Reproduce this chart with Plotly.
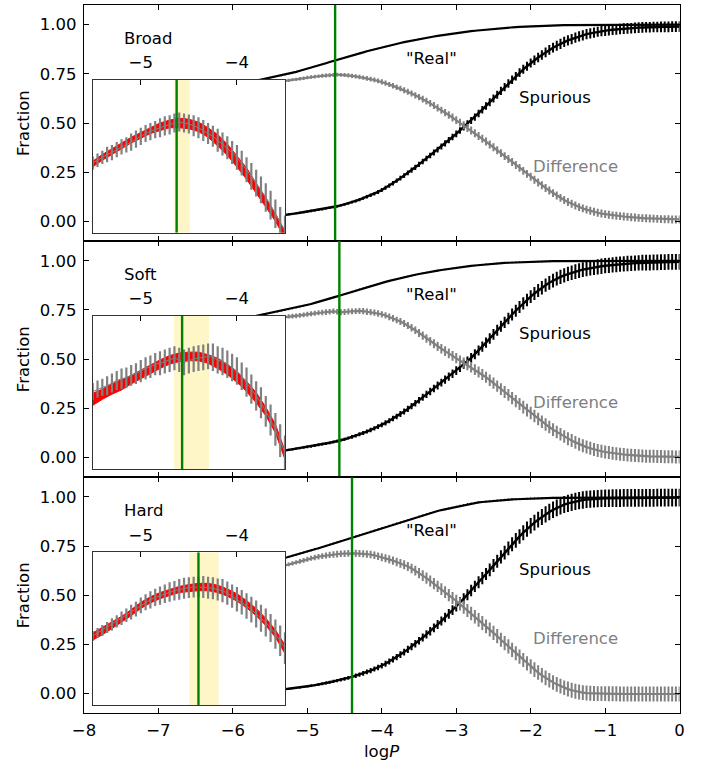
import numpy as np
import plotly.graph_objects as go

# ---------------- data ----------------
logp = np.round(np.arange(-6.0, 0.0001, 0.05), 2)   # 121 grid positions

panel_names = ["Broad", "Soft", "Hard"]

real_broad = [
    0.690, 0.694, 0.697, 0.701, 0.705, 0.709, 0.713, 0.718, 0.722, 0.726,
    0.730, 0.733, 0.737, 0.741, 0.745, 0.750, 0.755, 0.760, 0.766, 0.771,
    0.777, 0.782, 0.788, 0.793, 0.799, 0.804, 0.810, 0.815, 0.821, 0.826,
    0.832, 0.837, 0.843, 0.848, 0.854, 0.859, 0.865, 0.870, 0.875, 0.880,
    0.885, 0.890, 0.894, 0.899, 0.903, 0.907, 0.911, 0.915, 0.919, 0.923,
    0.927, 0.930, 0.934, 0.937, 0.940, 0.943, 0.946, 0.949, 0.952, 0.955,
    0.958, 0.960, 0.963, 0.965, 0.967, 0.969, 0.971, 0.973, 0.975, 0.977,
    0.979, 0.981, 0.982, 0.984, 0.985, 0.987, 0.988, 0.989, 0.990, 0.991,
    0.992, 0.993, 0.994, 0.994, 0.995, 0.996, 0.996, 0.997, 0.997, 0.998,
    0.998, 0.998, 0.998, 0.999, 0.999, 0.999, 0.999, 0.999, 0.999, 1.000] + [1.000] * 21
spur_broad = [
    0.010, 0.011, 0.012, 0.013, 0.014, 0.015, 0.016, 0.018, 0.019, 0.021,
    0.023, 0.025, 0.027, 0.030, 0.033, 0.036, 0.038, 0.041, 0.044, 0.047,
    0.050, 0.053, 0.056, 0.059, 0.062, 0.066, 0.069, 0.073, 0.077, 0.082,
    0.087, 0.092, 0.098, 0.104, 0.111, 0.118, 0.125, 0.133, 0.141, 0.150,
    0.160, 0.171, 0.182, 0.194, 0.207, 0.220, 0.233, 0.247, 0.261, 0.275,
    0.290, 0.305, 0.320, 0.335, 0.350, 0.365, 0.381, 0.397, 0.413, 0.429,
    0.445, 0.462, 0.479, 0.496, 0.513, 0.530, 0.549, 0.568, 0.587, 0.606,
    0.625, 0.644, 0.663, 0.682, 0.701, 0.720, 0.738, 0.756, 0.773, 0.789,
    0.805, 0.819, 0.833, 0.846, 0.859, 0.872, 0.883, 0.893, 0.903, 0.912,
    0.920, 0.927, 0.934, 0.940, 0.946, 0.952, 0.956, 0.960, 0.964, 0.967,
    0.970, 0.972, 0.974, 0.976, 0.978, 0.980, 0.981, 0.982, 0.984, 0.985,
    0.986, 0.987, 0.987, 0.988, 0.988, 0.989, 0.989, 0.989, 0.990, 0.990,
    0.990]
diff_broad = [
    0.678, 0.681, 0.684, 0.687, 0.689, 0.692, 0.694, 0.697, 0.699, 0.701,
    0.703, 0.706, 0.709, 0.712, 0.714, 0.717, 0.720, 0.722, 0.725, 0.728,
    0.731, 0.734, 0.736, 0.738, 0.740, 0.742, 0.743, 0.745, 0.746, 0.745,
    0.744, 0.742, 0.740, 0.737, 0.734, 0.731, 0.727, 0.723, 0.719, 0.714,
    0.709, 0.703, 0.696, 0.689, 0.682, 0.675, 0.667, 0.659, 0.650, 0.641,
    0.632, 0.622, 0.611, 0.600, 0.589, 0.577, 0.565, 0.553, 0.541, 0.528,
    0.515, 0.502, 0.489, 0.475, 0.462, 0.448, 0.434, 0.420, 0.406, 0.391,
    0.377, 0.362, 0.347, 0.332, 0.317, 0.302, 0.287, 0.272, 0.257, 0.242,
    0.227, 0.212, 0.198, 0.184, 0.170, 0.157, 0.144, 0.132, 0.120, 0.109,
    0.099, 0.090, 0.081, 0.073, 0.066, 0.060, 0.054, 0.049, 0.044, 0.040,
    0.037, 0.034, 0.031, 0.029, 0.027, 0.025, 0.023, 0.021, 0.020, 0.018,
    0.017, 0.016, 0.015, 0.014, 0.013, 0.012, 0.011, 0.011, 0.010, 0.010,
    0.010]
spur_err_broad = [0.004] * 10 + [0.005] * 10 + [0.006] * 10 + [
    0.007, 0.007, 0.007, 0.008, 0.008, 0.008, 0.009, 0.009, 0.009, 0.010,
    0.010, 0.010, 0.011, 0.011, 0.011, 0.012, 0.012, 0.012, 0.013, 0.013,
    0.013, 0.014, 0.014, 0.014, 0.015, 0.015, 0.015, 0.016, 0.016, 0.016,
    0.017, 0.017, 0.017, 0.018, 0.018, 0.018, 0.019, 0.019, 0.019, 0.020,
    0.020, 0.020, 0.021, 0.021, 0.021, 0.022, 0.022, 0.022, 0.023, 0.023,
    0.023, 0.024, 0.024, 0.024, 0.025, 0.025, 0.025, 0.025, 0.026, 0.026] + [0.026] * 10 + [0.027] * 21
diff_err_broad = [0.007] * 10 + [
    0.007, 0.007, 0.007, 0.008, 0.008, 0.008, 0.008, 0.008, 0.009, 0.009,
    0.009, 0.009, 0.009, 0.009, 0.010, 0.010, 0.010, 0.010, 0.010, 0.010,
    0.010, 0.011, 0.011, 0.011, 0.011, 0.011, 0.012, 0.012, 0.012, 0.012,
    0.013, 0.013, 0.013, 0.014, 0.014, 0.014, 0.015, 0.015, 0.015, 0.016,
    0.016, 0.017, 0.017, 0.017, 0.018, 0.018, 0.018, 0.019, 0.019, 0.020] + [0.020] * 61

real_soft = [
    0.695, 0.699, 0.703, 0.707, 0.711, 0.715, 0.719, 0.723, 0.727, 0.731,
    0.734, 0.738, 0.741, 0.745, 0.749, 0.753, 0.757, 0.761, 0.765, 0.770,
    0.775, 0.780, 0.786, 0.791, 0.797, 0.802, 0.808, 0.814, 0.819, 0.825,
    0.831, 0.837, 0.843, 0.849, 0.855, 0.861, 0.866, 0.872, 0.877, 0.883,
    0.888, 0.893, 0.898, 0.903, 0.908, 0.913, 0.917, 0.921, 0.925, 0.929,
    0.933, 0.937, 0.940, 0.944, 0.947, 0.950, 0.953, 0.956, 0.959, 0.962,
    0.965, 0.967, 0.970, 0.972, 0.974, 0.976, 0.978, 0.980, 0.982, 0.983,
    0.985, 0.986, 0.987, 0.989, 0.990, 0.991, 0.992, 0.993, 0.993, 0.994,
    0.995, 0.995, 0.996, 0.996, 0.997, 0.997, 0.998, 0.998, 0.998, 0.999,
    0.999, 0.999, 0.999, 0.999] + [1.000] * 27
spur_soft = [
    0.010, 0.011, 0.012, 0.013, 0.014, 0.016, 0.017, 0.019, 0.021, 0.023,
    0.025, 0.027, 0.030, 0.033, 0.036, 0.039, 0.042, 0.045, 0.048, 0.051,
    0.054, 0.057, 0.061, 0.064, 0.068, 0.071, 0.075, 0.079, 0.083, 0.088,
    0.093, 0.099, 0.105, 0.111, 0.118, 0.125, 0.132, 0.140, 0.148, 0.157,
    0.166, 0.176, 0.187, 0.198, 0.209, 0.221, 0.234, 0.247, 0.261, 0.276,
    0.291, 0.306, 0.321, 0.336, 0.351, 0.366, 0.381, 0.396, 0.411, 0.426,
    0.442, 0.458, 0.474, 0.490, 0.507, 0.525, 0.544, 0.564, 0.584, 0.605,
    0.626, 0.647, 0.667, 0.687, 0.707, 0.727, 0.746, 0.765, 0.783, 0.801,
    0.818, 0.834, 0.849, 0.863, 0.876, 0.888, 0.899, 0.909, 0.918, 0.926,
    0.933, 0.939, 0.945, 0.950, 0.955, 0.959, 0.963, 0.966, 0.969, 0.972,
    0.975, 0.977, 0.979, 0.981, 0.983, 0.984, 0.986, 0.987, 0.988, 0.989,
    0.990, 0.991, 0.991, 0.992, 0.992, 0.993, 0.993, 0.994, 0.994, 0.995,
    0.995]
diff_soft = [
    0.680, 0.683, 0.686, 0.689, 0.691, 0.694, 0.696, 0.699, 0.700, 0.702,
    0.704, 0.707, 0.709, 0.711, 0.714, 0.717, 0.719, 0.720, 0.723, 0.725,
    0.728, 0.731, 0.733, 0.736, 0.737, 0.739, 0.741, 0.743, 0.741, 0.738,
    0.740, 0.742, 0.743, 0.744, 0.745, 0.744, 0.741, 0.739, 0.736, 0.732,
    0.728, 0.722, 0.715, 0.707, 0.699, 0.691, 0.681, 0.671, 0.660, 0.647,
    0.633, 0.619, 0.605, 0.591, 0.578, 0.565, 0.553, 0.541, 0.529, 0.517,
    0.505, 0.493, 0.482, 0.470, 0.459, 0.447, 0.435, 0.422, 0.408, 0.393,
    0.378, 0.363, 0.348, 0.333, 0.318, 0.302, 0.287, 0.272, 0.256, 0.241,
    0.226, 0.211, 0.196, 0.182, 0.168, 0.155, 0.142, 0.130, 0.118, 0.107,
    0.096, 0.086, 0.077, 0.068, 0.060, 0.053, 0.047, 0.041, 0.036, 0.032,
    0.028, 0.025, 0.022, 0.019, 0.017, 0.015, 0.013, 0.012, 0.010, 0.009,
    0.008, 0.007, 0.006, 0.006, 0.005, 0.005, 0.004, 0.004, 0.004, 0.003,
    0.003]
spur_err_soft = [0.005] * 10 + [0.006] * 10 + [0.007] * 10 + [
    0.008, 0.008, 0.009, 0.009, 0.010, 0.010, 0.010, 0.011, 0.011, 0.012,
    0.012, 0.013, 0.013, 0.014, 0.014, 0.015, 0.015, 0.016, 0.016, 0.017,
    0.017, 0.018, 0.018, 0.019, 0.019, 0.020, 0.020, 0.021, 0.021, 0.022,
    0.022, 0.023, 0.023, 0.024, 0.024, 0.025, 0.025, 0.026, 0.026, 0.027,
    0.027, 0.028, 0.028, 0.029, 0.029, 0.030, 0.030, 0.031, 0.031, 0.032,
    0.032, 0.033, 0.033, 0.034, 0.034, 0.035, 0.035, 0.035, 0.036, 0.036,
    0.036, 0.037, 0.037, 0.037, 0.038, 0.038, 0.038, 0.038, 0.039, 0.039] + [0.039] * 10 + [0.040] * 11
diff_err_soft = [0.009] * 10 + [
    0.010, 0.010, 0.010, 0.011, 0.011, 0.011, 0.012, 0.012, 0.012, 0.012,
    0.013, 0.013, 0.013, 0.013, 0.014, 0.014, 0.014, 0.014, 0.014, 0.015,
    0.015, 0.015, 0.015, 0.015, 0.015, 0.016, 0.016, 0.016, 0.016, 0.016,
    0.016, 0.016, 0.017, 0.017, 0.017, 0.018, 0.018, 0.018, 0.019, 0.019,
    0.020, 0.021, 0.022, 0.022, 0.023, 0.024, 0.024, 0.025, 0.025, 0.025,
    0.026, 0.026, 0.026, 0.027, 0.027, 0.027, 0.028, 0.028, 0.028, 0.029,
    0.029, 0.029, 0.030, 0.030, 0.030, 0.031, 0.031, 0.031, 0.032, 0.032] + [0.032] * 10 + [0.033] * 31

real_hard = [
    0.610, 0.616, 0.622, 0.628, 0.634, 0.640, 0.646, 0.652, 0.658, 0.664,
    0.669, 0.674, 0.679, 0.684, 0.690, 0.695, 0.701, 0.706, 0.712, 0.717,
    0.723, 0.728, 0.734, 0.739, 0.745, 0.751, 0.757, 0.763, 0.769, 0.775,
    0.781, 0.787, 0.793, 0.799, 0.805, 0.811, 0.817, 0.823, 0.829, 0.835,
    0.841, 0.847, 0.853, 0.859, 0.865, 0.870, 0.876, 0.882, 0.887, 0.893,
    0.900, 0.906, 0.912, 0.918, 0.923, 0.928, 0.933, 0.937, 0.941, 0.945,
    0.950, 0.955, 0.959, 0.963, 0.966, 0.969, 0.972, 0.974, 0.976, 0.978,
    0.980, 0.982, 0.983, 0.985, 0.986, 0.987, 0.988, 0.989, 0.990, 0.991,
    0.992, 0.992, 0.993, 0.993, 0.994, 0.994, 0.995, 0.995, 0.995, 0.996,
    0.996, 0.996, 0.996, 0.997, 0.997, 0.997, 0.997, 0.997, 0.998, 0.998] + [0.998] * 21
spur_hard = [
    0.006, 0.007, 0.008, 0.009, 0.010, 0.011, 0.012, 0.013, 0.015, 0.016,
    0.017, 0.018, 0.020, 0.021, 0.023, 0.025, 0.027, 0.029, 0.031, 0.034,
    0.037, 0.040, 0.043, 0.046, 0.050, 0.054, 0.058, 0.062, 0.066, 0.071,
    0.075, 0.080, 0.085, 0.091, 0.097, 0.103, 0.110, 0.117, 0.125, 0.133,
    0.142, 0.152, 0.163, 0.174, 0.186, 0.198, 0.211, 0.225, 0.239, 0.254,
    0.269, 0.285, 0.301, 0.317, 0.334, 0.351, 0.369, 0.387, 0.405, 0.424,
    0.443, 0.463, 0.483, 0.503, 0.524, 0.545, 0.566, 0.587, 0.608, 0.629,
    0.651, 0.673, 0.695, 0.717, 0.738, 0.759, 0.779, 0.799, 0.818, 0.836,
    0.853, 0.869, 0.884, 0.898, 0.911, 0.923, 0.934, 0.944, 0.953, 0.961,
    0.967, 0.972, 0.977, 0.981, 0.984, 0.987, 0.989, 0.990, 0.991, 0.992,
    0.993, 0.993, 0.994, 0.994, 0.994, 0.995, 0.995, 0.995, 0.995, 0.995,
    0.995, 0.995, 0.995, 0.995, 0.996, 0.996, 0.996, 0.996, 0.996, 0.996,
    0.996]
diff_hard = [
    0.585, 0.590, 0.596, 0.601, 0.606, 0.611, 0.616, 0.621, 0.625, 0.629,
    0.633, 0.638, 0.642, 0.647, 0.652, 0.657, 0.662, 0.667, 0.672, 0.677,
    0.683, 0.688, 0.692, 0.696, 0.699, 0.702, 0.705, 0.707, 0.709, 0.711,
    0.712, 0.713, 0.713, 0.713, 0.712, 0.711, 0.709, 0.707, 0.703, 0.698,
    0.693, 0.688, 0.682, 0.676, 0.669, 0.662, 0.655, 0.646, 0.636, 0.625,
    0.613, 0.600, 0.587, 0.573, 0.559, 0.545, 0.531, 0.516, 0.501, 0.486,
    0.471, 0.455, 0.439, 0.423, 0.407, 0.391, 0.375, 0.359, 0.342, 0.326,
    0.309, 0.292, 0.274, 0.257, 0.240, 0.222, 0.205, 0.188, 0.171, 0.154,
    0.138, 0.122, 0.107, 0.093, 0.080, 0.068, 0.057, 0.047, 0.038, 0.030,
    0.023, 0.017, 0.012, 0.008, 0.005, 0.003, 0.002, 0.001, 0.000, 0.000,
    0.000, -0.001, -0.001, -0.001, -0.002, -0.002, -0.002, -0.002, -0.002, -0.002,
    -0.002, -0.002, -0.002, -0.002, -0.002, -0.002, -0.002, -0.002, -0.002, -0.002,
    -0.002]
spur_err_hard = [0.004] * 10 + [0.005] * 10 + [
    0.006, 0.006, 0.006, 0.007, 0.007, 0.007, 0.008, 0.008, 0.008, 0.009,
    0.009, 0.010, 0.010, 0.011, 0.011, 0.012, 0.012, 0.013, 0.013, 0.014,
    0.014, 0.015, 0.015, 0.016, 0.016, 0.017, 0.017, 0.018, 0.018, 0.019,
    0.019, 0.020, 0.021, 0.021, 0.022, 0.023, 0.023, 0.024, 0.025, 0.025,
    0.026, 0.027, 0.027, 0.028, 0.029, 0.029, 0.030, 0.031, 0.031, 0.032,
    0.033, 0.033, 0.034, 0.035, 0.035, 0.036, 0.037, 0.037, 0.038, 0.039,
    0.039, 0.040, 0.040, 0.041, 0.041, 0.042, 0.042, 0.043, 0.043, 0.043] + [0.044] * 10 + [0.045] * 21
diff_err_hard = [0.008] * 10 + [
    0.008, 0.008, 0.009, 0.009, 0.010, 0.010, 0.011, 0.011, 0.012, 0.012,
    0.013, 0.013, 0.014, 0.014, 0.015, 0.015, 0.016, 0.016, 0.017, 0.017,
    0.017, 0.017, 0.017, 0.018, 0.018, 0.018, 0.018, 0.019, 0.019, 0.019,
    0.020, 0.020, 0.021, 0.021, 0.022, 0.022, 0.023, 0.023, 0.024, 0.025,
    0.026, 0.027, 0.028, 0.028, 0.029, 0.029, 0.030, 0.030, 0.031, 0.031,
    0.032, 0.032, 0.033, 0.033, 0.034, 0.034, 0.035, 0.035, 0.035, 0.036] + [0.036] * 10 + [0.037] * 10 + [0.038] * 31

real_err = [0.003, 0.004, 0.005]

# peak of the difference curve and its uncertainty band
peak_logp = [-4.627, -4.57, -4.40]
peak_lo = [-4.65, -4.655, -4.495]
peak_hi = [-4.49, -4.29, -4.19]

# smooth fit to the difference curve (inset), centre and half-width
fit_logp = [-5.5, -5.4, -5.3, -5.2, -5.1, -5.0, -4.9, -4.8, -4.7, -4.6, -4.5,
            -4.4, -4.3, -4.2, -4.1, -4.0, -3.9, -3.8, -3.7, -3.6, -3.5]
fit_broad = [0.702, 0.709, 0.715, 0.721, 0.727, 0.732, 0.737, 0.741, 0.744, 0.745, 0.744,
             0.741, 0.735, 0.727, 0.717, 0.705, 0.692, 0.677, 0.662, 0.646, 0.628]
fit_hw_broad = [0.003, 0.003, 0.003, 0.003, 0.003, 0.003, 0.003, 0.004, 0.004, 0.005, 0.005,
                0.005, 0.005, 0.006, 0.006, 0.006, 0.006, 0.005, 0.005, 0.004, 0.004]
fit_soft = [0.695, 0.701, 0.707, 0.712, 0.718, 0.724, 0.730, 0.736, 0.741, 0.744, 0.745,
            0.745, 0.742, 0.737, 0.730, 0.721, 0.710, 0.697, 0.681, 0.661, 0.630]
fit_hw_soft = [0.007, 0.006, 0.006, 0.006, 0.005, 0.005, 0.005, 0.005, 0.005, 0.005, 0.005,
               0.005, 0.005, 0.006, 0.006, 0.006, 0.006, 0.006, 0.005, 0.005, 0.005]
fit_hard = [0.632, 0.641, 0.650, 0.660, 0.671, 0.683, 0.692, 0.699, 0.704, 0.709, 0.711,
            0.713, 0.713, 0.710, 0.704, 0.696, 0.685, 0.672, 0.656, 0.637, 0.611]
fit_hw_hard = [0.006, 0.006, 0.005, 0.005, 0.005, 0.005, 0.005, 0.005, 0.005, 0.005, 0.006,
               0.006, 0.006, 0.006, 0.006, 0.006, 0.006, 0.006, 0.006, 0.006, 0.007]

main_xrange = [-8, 0]
main_yrange = [-0.1, 1.1]
main_yticks = [0.0, 0.25, 0.5, 0.75, 1.0]
inset_xrange = [-5.5, -3.5]
inset_xticks = [-5, -4]
inset_yranges = [[0.630, 0.790], [0.614, 0.792], [0.520, 0.770]]

reals = [real_broad, real_soft, real_hard]
spurs = [spur_broad, spur_soft, spur_hard]
diffs = [diff_broad, diff_soft, diff_hard]
spur_errs = [spur_err_broad, spur_err_soft, spur_err_hard]
diff_errs = [diff_err_broad, diff_err_soft, diff_err_hard]
fits = [fit_broad, fit_soft, fit_hard]
fit_hws = [fit_hw_broad, fit_hw_soft, fit_hw_hard]

n = len(logp)
for arr in reals + spurs + diffs + spur_errs + diff_errs:
    assert len(arr) == n, len(arr)

# ---------------- figure ----------------
FONT = "DejaVu Sans"
FS = 16.5
GRAY = "#808080"
GREEN = "#008000"

W, H = 706, 764
px_left, px_right = 84.0, 679.6
panel_tops = [5.0, 241.1, 477.2]
panel_h = 236.1
inset_px_x = [92.7, 285.0]
inset_top_off, inset_h = 75.0, 152.8

def fx(px):
    return px / W

def fy(py):
    return 1 - py / H

fig = go.Figure()
main_ids = ["", "2", "3"]
inset_ids = ["4", "5", "6"]

for k in range(3):
    xa, ya = "x" + main_ids[k], "y" + main_ids[k]
    common = dict(xaxis=xa, yaxis=ya, showlegend=False, hoverinfo="skip")
    fig.add_trace(go.Scatter(
        x=logp, y=reals[k], mode="lines", line=dict(color="black", width=2.2),
        error_y=dict(type="data", array=[real_err[k]] * n, color="black", thickness=1.0, width=0),
        **common))
    fig.add_trace(go.Scatter(
        x=logp, y=spurs[k], mode="lines", line=dict(color="black", width=2.4),
        error_y=dict(type="data", array=spur_errs[k], color="black", thickness=2.0, width=0),
        **common))
    fig.add_trace(go.Scatter(
        x=logp, y=diffs[k], mode="lines", line=dict(color=GRAY, width=2.2),
        error_y=dict(type="data", array=diff_errs[k], color=GRAY, thickness=2.0, width=0),
        **common))
    fig.add_trace(go.Scatter(
        x=[peak_logp[k], peak_logp[k]], y=main_yrange, mode="lines",
        line=dict(color=GREEN, width=2.4), **common))

    # ---- inset ----
    xi, yi = "x" + inset_ids[k], "y" + inset_ids[k]
    ci = dict(xaxis=xi, yaxis=yi, showlegend=False, hoverinfo="skip")
    x0, x1 = inset_xrange
    y0, y1 = inset_yranges[k]
    fig.add_trace(go.Scatter(
        x=[x0, x1, x1, x0, x0], y=[y0, y0, y1, y1, y0], mode="lines", fill="toself",
        fillcolor="white", line=dict(width=0, color="white"), **ci))
    fig.add_trace(go.Scatter(
        x=[peak_lo[k], peak_hi[k], peak_hi[k], peak_lo[k], peak_lo[k]],
        y=[y0, y0, y1, y1, y0], mode="lines", fill="toself",
        fillcolor="rgba(255,215,0,0.22)", line=dict(width=0), **ci))
    fc = np.array(fits[k]); fh = np.array(fit_hws[k])
    fig.add_trace(go.Scatter(
        x=list(fit_logp) + list(fit_logp[::-1]),
        y=list(fc + fh) + list((fc - fh)[::-1]), mode="lines", fill="toself",
        fillcolor="red", line=dict(width=1.0, color="red"), **ci))
    sel = (logp >= x0 - 1e-9) & (logp <= x1 + 1e-9)
    fig.add_trace(go.Scatter(
        x=logp[sel], y=np.array(diffs[k])[sel], mode="lines",
        line=dict(color=GRAY, width=1.0),
        error_y=dict(type="data", array=np.array(diff_errs[k])[sel], color=GRAY,
                     thickness=2.2, width=0),
        **ci))
    fig.add_trace(go.Scatter(
        x=[peak_logp[k], peak_logp[k]], y=[y0, y1], mode="lines",
        line=dict(color=GREEN, width=2.4), **ci))

layout = dict(
    template="none",
    width=W, height=H, margin=dict(l=0, r=0, t=0, b=0, pad=0), autosize=False,
    paper_bgcolor="white", plot_bgcolor="white",
    font=dict(family=FONT, size=FS, color="black"),
    showlegend=False,
)

annotations = []
for k in range(3):
    top = panel_tops[k]
    bot = top + panel_h
    xkey = "xaxis" + main_ids[k]
    ykey = "yaxis" + main_ids[k]
    layout[xkey] = dict(
        domain=[fx(px_left), fx(px_right)], range=main_xrange, anchor="y" + main_ids[k],
        tickmode="linear", tick0=-8, dtick=1, ticks="inside", ticklen=5, tickwidth=1.1,
        tickcolor="black", showline=True, linecolor="black", linewidth=1.2, mirror="ticks",
        showgrid=False, zeroline=False, showticklabels=(k == 2), automargin=False,
        tickfont=dict(family=FONT, size=FS, color="black"), ticklabelstandoff=2,
    )
    layout[ykey] = dict(
        domain=[fy(bot), fy(top)], range=main_yrange, anchor="x" + main_ids[k],
        tickmode="array", tickvals=main_yticks, tickformat=".2f", ticks="inside",
        ticklen=5, tickwidth=1.1, tickcolor="black", showline=True, linecolor="black",
        linewidth=1.2, mirror="ticks", showgrid=False, zeroline=False, automargin=False,
        tickfont=dict(family=FONT, size=FS, color="black"), ticklabelstandoff=3,
    )
    itop = top + inset_top_off
    ibot = itop + inset_h
    layout["xaxis" + inset_ids[k]] = dict(
        domain=[fx(inset_px_x[0]), fx(inset_px_x[1])], range=inset_xrange,
        anchor="y" + inset_ids[k], side="top", tickmode="array", tickvals=inset_xticks,
        ticks="inside", ticklen=5, tickwidth=1.1, tickcolor="black", showline=True,
        linecolor="#333333", linewidth=1.2, mirror=True, showgrid=False, zeroline=False,
        automargin=False, tickfont=dict(family=FONT, size=FS, color="black"),
        ticklabelstandoff=4,
    )
    layout["yaxis" + inset_ids[k]] = dict(
        domain=[fy(ibot), fy(itop)], range=inset_yranges[k], anchor="x" + inset_ids[k],
        showticklabels=False, ticks="", showline=True, linecolor="#333333", linewidth=1.2,
        mirror=True, showgrid=False, zeroline=False, automargin=False,
    )
    xr = "x" + main_ids[k]
    yr = "y" + main_ids[k]
    annotations += [
        dict(x=-7.49, y=0.93, xref=xr, yref=yr, text=panel_names[k], showarrow=False,
             xanchor="left", yanchor="middle", font=dict(size=FS, color="black")),
        dict(x=-3.70, y=0.83, xref=xr, yref=yr, text='"Real"', showarrow=False,
             xanchor="left", yanchor="middle", font=dict(size=FS, color="black")),
        dict(x=-2.19, y=0.63, xref=xr, yref=yr, text="Spurious", showarrow=False,
             xanchor="left", yanchor="middle", font=dict(size=FS, color="black")),
        dict(x=-1.99, y=0.28, xref=xr, yref=yr, text="Difference", showarrow=False,
             xanchor="left", yanchor="middle", font=dict(size=FS, color=GRAY)),
        dict(x=fx(23), y=fy(top + panel_h / 2), xref="paper", yref="paper", text="Fraction",
             textangle=-90, showarrow=False, xanchor="center", yanchor="middle",
             font=dict(size=FS, color="black")),
    ]

annotations.append(dict(
    x=fx((px_left + px_right) / 2), y=fy(751), xref="paper", yref="paper",
    text="log<i>P</i>", showarrow=False, xanchor="center", yanchor="middle",
    font=dict(size=FS, color="black")))

layout["annotations"] = annotations
fig.update_layout(**layout)

fig.write_html(
    "out.html",
    config={"responsive": False, "displayModeBar": False},
    post_script="document.body.style.margin='0';document.body.style.overflow='hidden';",
)
